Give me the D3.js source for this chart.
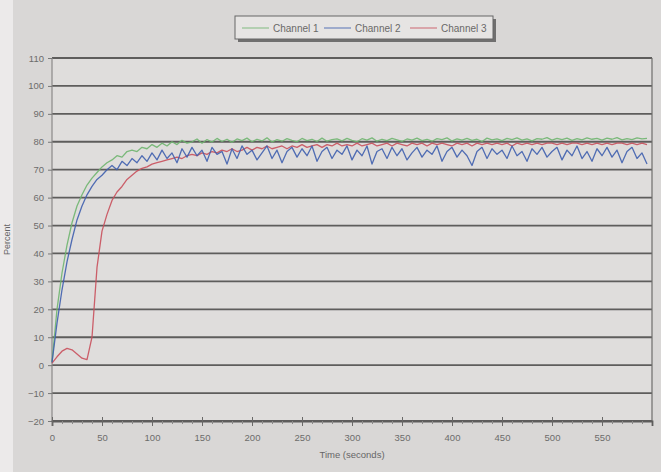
<!DOCTYPE html>
<html>
<head>
<meta charset="utf-8">
<script src="https://cdn.jsdelivr.net/npm/d3@7"></script>
<style>
  html, body { margin: 0; padding: 0; background: #d9d7d6; }
  svg { display: block; }
  text { font-family: "Liberation Sans", Arial, sans-serif; }
</style>
</head>
<body>
<svg id="chart" width="661" height="472"></svg>
<script>
// ---- data ----
const seriesNames = ["Channel 1", "Channel 2", "Channel 3"];
const yTicks = [-20, -10, 0, 10, 20, 30, 40, 50, 60, 70, 80, 90, 100, 110];
const xTicks = [0, 50, 100, 150, 200, 250, 300, 350, 400, 450, 500, 550];
const time = [
  0,5,10,15,20,25,30,35,40,45, 50,55,60,65,70,75,80,85,90,95,
  100,105,110,115,120,125,130,135,140,145, 150,155,160,165,170,175,180,185,190,195,
  200,205,210,215,220,225,230,235,240,245, 250,255,260,265,270,275,280,285,290,295,
  300,305,310,315,320,325,330,335,340,345, 350,355,360,365,370,375,380,385,390,395,
  400,405,410,415,420,425,430,435,440,445, 450,455,460,465,470,475,480,485,490,495,
  500,505,510,515,520,525,530,535,540,545, 550,555,560,565,570,575,580,585,590,595
];
const channel1 = [
  1,20,33,43,51,57,61,64.5,67,69,
  71,72.5,73.5,75,74.5,76.5,77,76.5,78,77.5,
  79,78,79.5,78.5,80,79,80.5,79.5,80,81,
  79.5,80.8,79.9,81.2,80.1,80.9,79.8,81.0,80.4,81.3,
  80.0,80.9,80.3,81.4,79.9,80.8,80.2,81.1,80.5,80.0,
  81.2,80.4,80.9,80.1,81.3,80.2,80.8,81.0,80.3,81.2,
  80.5,80.0,81.1,80.6,81.4,80.2,80.9,80.4,81.2,80.7,
  80.1,81.0,80.6,81.3,80.4,80.9,80.2,81.1,80.8,81.4,
  80.3,81.0,80.6,81.2,80.5,80.9,80.1,81.3,80.7,81.0,
  80.4,81.2,80.8,81.4,80.6,81.0,80.3,81.1,80.9,81.5,
  80.6,81.2,80.8,81.3,80.5,81.1,80.7,81.4,80.9,81.2,
  80.6,81.3,80.9,81.5,80.7,81.1,80.8,81.4,81.0,81.2
];
const channel2 = [
  1,15,27,37,45,52,57,61,64,66.5,
  68,70,71.5,70,73,71.5,74,72.5,75,73,
  76,73.5,77,74,76,72.5,77.5,74.5,78,75,
  77,73,78,75.5,76.5,72,77.5,74,78.5,75.5,
  77,73.5,76,78.5,74,77,72.5,76.5,78,74.5,
  77.5,75,78.5,73,76.5,78,74,77,75.5,78.5,
  73.5,77,75,78.5,72,76.5,77.5,74,78,75,
  77.5,73.5,76,78,74.5,77,75.5,78.5,73,76.5,
  78,74.5,77,75,71.5,76.5,78,74,77.5,75.5,
  77,74,78.5,75,76.5,73,77.5,75.5,78,74.5,
  76.5,78,73.5,77,75,78.5,74,76.5,73,77.5,
  75,78,74.5,77,72.5,76.5,78,74,76,72
];
const channel3 = [
  0.7,3,5,6,5.5,4,2.5,2,10,35,
  48,54,59,62,64,66.5,68,69.5,70.5,71,
  72,72.5,73,73.5,74,74.5,74,75,75.5,75,
  76,75.5,76.5,76,77,76.5,77.5,76.5,77,78,
  77,78,77.5,78.5,77.5,78,78.5,77.5,78.5,78,
  79,78,78.5,79,78,79,78.5,79.5,78.5,79,
  78.5,79.5,78.5,79,79.5,78.5,79,79.5,78.5,79.5,
  79,78.5,79.5,79,79.5,78.5,79.5,79,79.5,79,
  78.5,79.5,79,79.5,78.5,79.5,79,79.5,79,79.5,
  79,79.5,78.5,79.5,79,79.5,79,79.5,79,79.5,
  79.5,79,79.5,79,79.5,79.5,79,79.5,79,79.5,
  79,79.5,79,79.5,79.5,79,79.5,79,79.5,79
];
const colors = ["#6fb56f", "#3f5fae", "#c9505c"];

// ---- layout ----
const svg = d3.select("#chart");
const W = 661, H = 472;
const m = { left: 52, right: 9, top: 58, bottom: 51 };
const x = d3.scaleLinear().domain([0, 600]).range([m.left, W - m.right]);
const y = d3.scaleLinear().domain([-20, 110]).range([H - m.bottom, m.top]);

// background strip on the left
svg.append("rect").attr("x", 0).attr("y", 0).attr("width", 13).attr("height", H).attr("fill", "#eceaea");
// plot area
svg.append("rect").attr("x", m.left).attr("y", m.top)
  .attr("width", W - m.left - m.right).attr("height", H - m.top - m.bottom)
  .attr("fill", "#dfdddc");

// horizontal grid lines
svg.append("g").selectAll("line").data(yTicks).join("line")
  .attr("x1", m.left).attr("x2", W - m.right)
  .attr("y1", d => y(d)).attr("y2", d => y(d))
  .attr("stroke", "#5e5d5c").attr("stroke-width", 1.8);

// frame
svg.append("line").attr("x1", m.left).attr("x2", m.left).attr("y1", m.top).attr("y2", H - m.bottom)
  .attr("stroke", "#8a8988").attr("stroke-width", 1.2);
svg.append("line").attr("x1", W - m.right).attr("x2", W - m.right).attr("y1", m.top).attr("y2", H - m.bottom)
  .attr("stroke", "#6e6d6c").attr("stroke-width", 1.2);

// y axis
const yAxis = d3.axisLeft(y).tickValues(yTicks).tickSize(4).tickPadding(4);
const gy = svg.append("g").attr("transform", `translate(${m.left},0)`).call(yAxis);
gy.select(".domain").remove();
gy.selectAll("line").attr("stroke", "#777");
gy.selectAll("text").attr("fill", "#6d6c6b").style("font-size", "9.5px");

// x axis
const xAxis = d3.axisBottom(x).tickValues(xTicks).tickSize(5).tickPadding(8);
const gx = svg.append("g").attr("transform", `translate(0,${H - m.bottom})`).call(xAxis);
gx.select(".domain").attr("stroke", "#5e5d5c").attr("stroke-width", 1.8);
gx.selectAll("line").attr("stroke", "#6a6968").attr("y1", -4);
gx.selectAll("text").attr("fill", "#6d6c6b").style("font-size", "9.5px");
const xMinor = d3.axisBottom(x).tickValues(d3.range(0, 600, 10).filter(v => v % 50 !== 0)).tickSize(3).tickFormat("");
const gxm = svg.append("g").attr("transform", `translate(0,${H - m.bottom})`).call(xMinor);
gxm.select(".domain").remove();
gxm.selectAll("line").attr("stroke", "#8a8988");

// axis titles
svg.append("text").attr("x", (m.left + W - m.right) / 2).attr("y", 458)
  .attr("text-anchor", "middle").attr("fill", "#666").style("font-size", "9.5px").text("Time (seconds)");
svg.append("text").attr("transform", `translate(10,${y(45)}) rotate(-90)`)
  .attr("text-anchor", "middle").attr("fill", "#666").style("font-size", "9px").text("Percent");

// lines
const series = [channel1, channel3, channel2];
const order = [0, 2, 1];
const line = d3.line().x((d, i) => x(time[i])).y(d => y(d));
order.forEach(k => {
  const vals = [channel1, channel2, channel3][k];
  svg.append("path").datum(vals).attr("d", line)
    .attr("fill", "none").attr("stroke", colors[k]).attr("stroke-width", 1.3)
    .attr("stroke-linejoin", "round").attr("opacity", 0.9);
});

// legend
const lg = svg.append("g");
lg.append("rect").attr("x", 238).attr("y", 19).attr("width", 258).attr("height", 23).attr("fill", "#555").attr("opacity", 0.8);
lg.append("rect").attr("x", 235).attr("y", 16).attr("width", 258).attr("height", 23)
  .attr("fill", "#e6e4e3").attr("stroke", "#666").attr("stroke-width", 1);
const lx = [242, 324, 410];
seriesNames.forEach((n, i) => {
  lg.append("line").attr("x1", lx[i]).attr("x2", lx[i] + 27).attr("y1", 28).attr("y2", 28)
    .attr("stroke", colors[i]).attr("stroke-width", 1.2).attr("opacity", 0.7);
  lg.append("text").attr("x", lx[i] + 31).attr("y", 31.5).attr("fill", "#6a6968")
    .style("font-size", "10px").text(n);
});
</script>
</body>
</html>
